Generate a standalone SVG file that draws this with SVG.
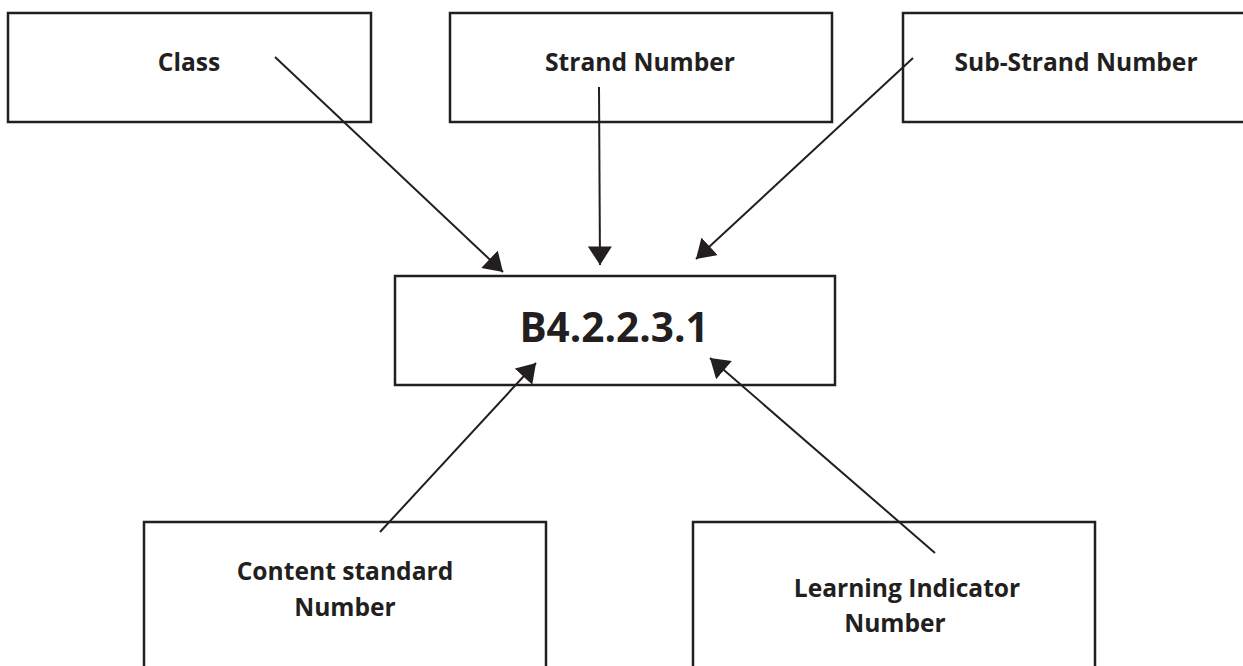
<svg xmlns="http://www.w3.org/2000/svg" width="1243" height="666" viewBox="0 0 1243 666">
<style>
.box{fill:#fff;stroke:#231f20;stroke-width:2.5}
.lbl{font-family:"Open Sans","Noto Sans",sans-serif;font-weight:700;font-size:24.6px;fill:#231f20;text-anchor:middle}
.big{font-size:40.5px}
.con{stroke:#231f20;stroke-width:2;fill:none;marker-end:url(#ah)}
</style>
<defs>
<marker id="ah" markerUnits="userSpaceOnUse" markerWidth="20" markerHeight="24" refX="17" refY="11" orient="auto" viewBox="0 0 18 22">
<path d="M0,0 L17,11 L0,22 Z" fill="#231f20"/>
</marker>
</defs>
<rect width="1243" height="666" fill="#fff"/>
<g id="class">
<rect class="box" x="8" y="13" width="363" height="109"/>
<text class="lbl" x="189" y="71">Class</text>
</g>
<g id="strand">
<rect class="box" x="450" y="13" width="382" height="109"/>
<text class="lbl" x="640" y="71">Strand Number</text>
</g>
<g id="substrand">
<rect class="box" x="903" y="13" width="345" height="109"/>
<text class="lbl" x="1076" y="71">Sub-Strand Number</text>
</g>
<g id="code">
<rect class="box" x="395" y="276" width="440" height="109"/>
<text class="lbl big" x="614" y="342">B4.2.2.3.1</text>
</g>
<g id="content">
<rect class="box" x="144" y="522" width="402" height="160"/>
<text class="lbl" x="345" y="580">Content standard</text>
<text class="lbl" x="345" y="616">Number</text>
</g>
<g id="learning">
<rect class="box" x="693" y="522" width="402" height="160"/>
<text class="lbl" x="907" y="597">Learning Indicator</text>
<text class="lbl" x="895" y="632">Number</text>
</g>
<g id="connectors">
<path class="con" d="M275,57 L503,272"/>
<path class="con" d="M599,87 L600,265"/>
<path class="con" d="M913,58 L696,259"/>
<path class="con" d="M380,532 L536,363"/>
<path class="con" d="M935,553 L710,358"/>
</g>
</svg>
